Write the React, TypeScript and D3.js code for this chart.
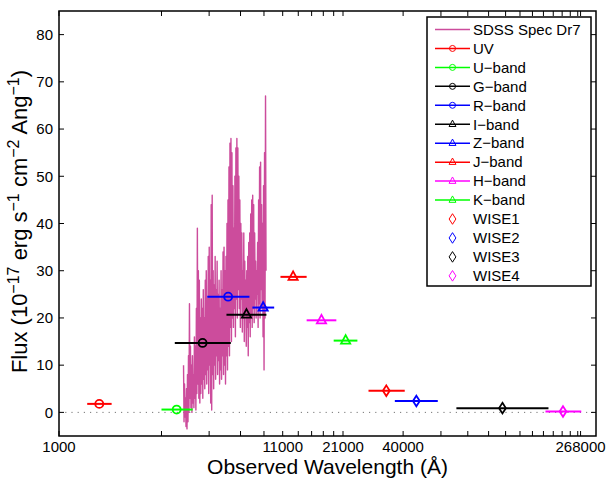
import React from "react";
import * as d3 from "d3";

// ---- Data ----
const bandNames = ["UV", "U\u2212band", "G\u2212band", "R\u2212band", "I\u2212band", "Z\u2212band", "J\u2212band", "H\u2212band", "K\u2212band", "WISE1", "WISE2", "WISE3", "WISE4"];
const bandWave = [1540, 3530, 4660, 6130, 7460, 8920, 12300, 16670, 21600, 33400, 46100, 116000, 222000];
const bandLo = [1353, 3000, 3460, 4900, 6020, 7950, 10740, 14220, 19000, 27600, 36600, 70800, 184000];
const bandHi = [1758, 4190, 6310, 7700, 9240, 10040, 14220, 19550, 24500, 40700, 58000, 190000, 270000];
const bandFlux = [1.8, 0.6, 14.7, 24.5, 20.7, 22.2, 28.7, 19.5, 15.2, 4.6, 2.4, 0.9, 0.2];
const bandColor = ["#ff0000", "#00ff00", "#000000", "#0000ff", "#000000", "#0000ff", "#ff0000", "#ff00ff", "#00ff00", "#ff0000", "#0000ff", "#000000", "#ff00ff"];
const bandMarker = ["circle", "circle", "circle", "circle", "triangle", "triangle", "triangle", "triangle", "triangle", "diamond", "diamond", "diamond", "diamond"];

// SDSS DR7 spectrum: log-uniform sampling from 3800 to 9200 Angstrom
const specStart = 3800;
const specEnd = 9200;
const specFlux = [
  10, -2, 6, -1, 3, -3, 5, -3.5, 8, -2, 12, 0, 23, 3, 14, 1, 10, 0, 12, 2,
  8, 1, 16, 3, 14, 0.5, 22, 4, 39, 6, 30, 3, 28, 2, 20, 4, 24, 6, 22, 3,
  26, 7, 20, 5, 28, 8, 30, 6, 24, 9, 33, 4, 35, 10, 28, 2, 44, 0.5, 46, 8,
  30, 5, 27, 10, 33, 7, 26, 12, 32, 8, 25, 11, 28, 6, 22, 9, 30, 7, 26, 12,
  34, 8, 35, 10, 30, 6, 33, 12, 40, 9, 45, 14, 52, 12, 57, 18, 58, 15, 55, 20,
  48, 18, 39, 22, 50, 16, 56, 24, 58, 20, 56, 26, 50, 22, 45, 18, 40, 24, 38, 17,
  30, 20, 38, 15, 32, 21, 28, 14, 30, 18, 33, 12, 36, 19, 38, 16, 42, 20, 45, 18,
  46, 22, 44, 19, 38, 24, 32, 20, 30, 25, 36, 18, 45, 23, 52, 20, 53, 26, 44, 22,
  40, 16, 48, 9, 55, 20, 67, 30,
];

const yTicks = [0, 10, 20, 30, 40, 50, 60, 70, 80];
const xTicks = [1000, 3000, 5000, 7000, 9000, 11000, 13000, 15000, 17000, 19000, 21000, 40000, 60000, 80000, 100000, 120000, 140000, 160000, 180000, 200000, 220000, 240000, 260000, 268000];
const xTickLabels = [1000, 11000, 21000, 40000, 268000];

const FONT = "'Liberation Sans', Arial, Helvetica, sans-serif";

function Marker({ type, x, y, color, s = 1, sw = 1.8 }: any) {
  if (type === "circle") {
    return <circle cx={x} cy={y} r={4 * s} fill="none" stroke={color} strokeWidth={sw} />;
  }
  if (type === "triangle") {
    const p = [[0, -5.5 * s], [4.6 * s, 3 * s], [-4.6 * s, 3 * s]].map((q) => `${x + q[0]},${y + q[1]}`).join(" ");
    return <polygon points={p} fill="none" stroke={color} strokeWidth={sw} />;
  }
  const p = [[0, -5.3 * s], [3.4 * s, 0], [0, 5.3 * s], [-3.4 * s, 0]].map((q) => `${x + q[0]},${y + q[1]}`).join(" ");
  return <polygon points={p} fill="none" stroke={color} strokeWidth={sw} />;
}

export default function App() {
  const W = 608, H = 479;
  const L = 59, R = 596, T = 11, B = 436;
  const x = d3.scaleLog().domain([1000, Math.pow(10, 5.5)]).range([L, R]);
  const y = d3.scaleLinear().domain([-5, 85]).range([B, T]);

  const n = specFlux.length;
  const lw0 = Math.log10(specStart), lw1 = Math.log10(specEnd);
  const spec = specFlux.map((f, i) => [Math.pow(10, lw0 + ((lw1 - lw0) * i) / (n - 1)), f]);
  const specPath = d3.line<number[]>().x((d) => x(d[0])).y((d) => y(d[1]))(spec) || "";

  const tickLen = 5;
  const legX = 427, legY = 17, legW = 164, legH = 269;
  const rowY = (i: number) => 29.5 + i * 18.95;

  return (
    <svg width={W} height={H} style={{ position: "absolute", left: 0, top: 0, background: "#fff" }} fontFamily={FONT}>
      <rect x={0} y={0} width={W} height={H} fill="#fff" />
      {/* zero dotted line */}
      <line x1={L} x2={R} y1={y(0)} y2={y(0)} stroke="#777" strokeWidth={1} strokeDasharray="1.2 5" />

      {/* spectrum */}
      <path d={specPath} fill="none" stroke="#cc4c9c" strokeWidth={1.4} strokeLinejoin="round" />

      {/* error bars and markers */}
      {bandNames.map((nm, i) => (
        <g key={nm}>
          <line x1={x(bandLo[i])} x2={x(bandHi[i])} y1={y(bandFlux[i])} y2={y(bandFlux[i])} stroke={bandColor[i]} strokeWidth={2} />
          <Marker type={bandMarker[i]} x={x(bandWave[i])} y={y(bandFlux[i])} color={bandColor[i]} />
        </g>
      ))}

      {/* axes box */}
      <rect x={L} y={T} width={R - L} height={B - T} fill="none" stroke="#000" strokeWidth={1.5} />
      {xTicks.map((t) => (
        <g key={"xt" + t}>
          <line x1={x(t)} x2={x(t)} y1={B} y2={B - tickLen} stroke="#000" strokeWidth={1} />
          <line x1={x(t)} x2={x(t)} y1={T} y2={T + tickLen} stroke="#000" strokeWidth={1} />
        </g>
      ))}
      {xTickLabels.map((t) => (
        <text key={"xl" + t} x={x(t)} y={452} textAnchor="middle" fontSize={15} fill="#000">{t}</text>
      ))}
      {yTicks.map((t) => (
        <g key={"yt" + t}>
          <line x1={L} x2={L + tickLen} y1={y(t)} y2={y(t)} stroke="#000" strokeWidth={1} />
          <line x1={R} x2={R - tickLen} y1={y(t)} y2={y(t)} stroke="#000" strokeWidth={1} />
          <text x={L - 6} y={y(t)} dy="0.35em" textAnchor="end" fontSize={15} fill="#000">{t}</text>
        </g>
      ))}

      {/* axis labels */}
      <text x={(L + R) / 2} y={474} textAnchor="middle" fontSize={21} fill="#000">Observed Wavelength (Å)</text>
      <text transform={`translate(27,${(T + B) / 2 - 2}) rotate(-90)`} textAnchor="middle" fontSize={22} fill="#000">
        Flux (10<tspan fontSize={16} dy={-8}>−17</tspan>
        <tspan dy={8}> erg s</tspan><tspan fontSize={16} dy={-8}>−1</tspan>
        <tspan dy={8}> cm</tspan><tspan fontSize={16} dy={-8}>−2</tspan>
        <tspan dy={8}> Ang</tspan><tspan fontSize={16} dy={-8}>−1</tspan>
        <tspan dy={8}>)</tspan>
      </text>

      {/* legend */}
      <rect x={legX} y={legY} width={legW} height={legH} fill="#fff" stroke="#000" strokeWidth={1.5} />
      <line x1={435} x2={470} y1={rowY(0)} y2={rowY(0)} stroke="#cc4c9c" strokeWidth={1.3} />
      <text x={473} y={rowY(0)} dy="0.35em" fontSize={15}>SDSS Spec Dr7</text>
      {bandNames.map((nm, i) => (
        <g key={"lg" + nm}>
          {bandMarker[i] !== "diamond" && (
            <line x1={435} x2={470} y1={rowY(i + 1)} y2={rowY(i + 1)} stroke={bandColor[i]} strokeWidth={1.5} />
          )}
          <Marker type={bandMarker[i]} x={452.5} y={rowY(i + 1)} color={bandColor[i]} s={bandMarker[i] === "diamond" ? 1 : 0.75} sw={1} />
          <text x={473} y={rowY(i + 1)} dy="0.35em" fontSize={15}>{nm}</text>
        </g>
      ))}
    </svg>
  );
}
